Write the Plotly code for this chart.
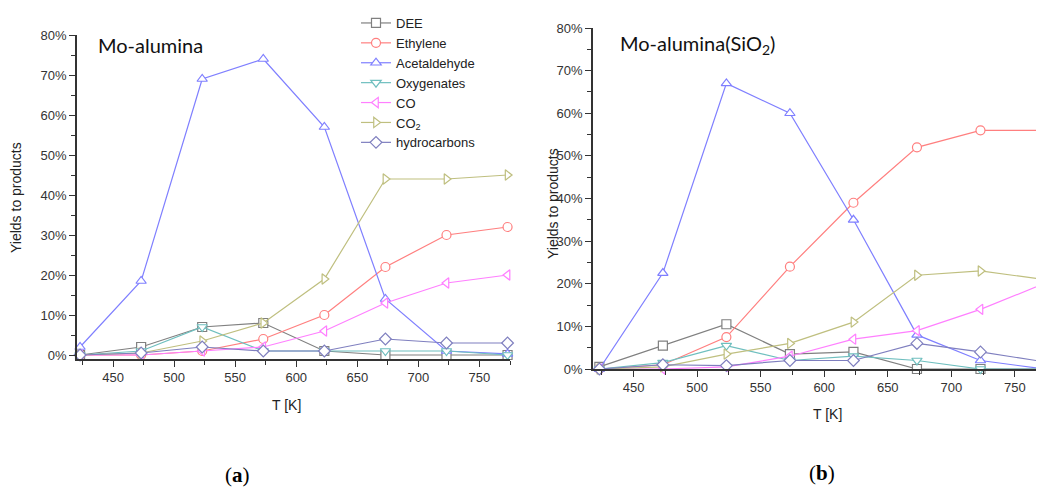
import plotly.graph_objects as go

T = [423, 473, 523, 573, 623, 673, 723, 773]
series_names = ["DEE", "Ethylene", "Acetaldehyde", "Oxygenates", "CO", "CO<sub>2</sub>", "hydrocarbons"]

# Mo-alumina (a), yields in %
a_dee = [0, 2, 7, 8, 1, 0, 0, 0]
a_ethylene = [0, 0, 1, 4, 10, 22, 30, 32]
a_acetaldehyde = [2, 18.5, 69, 74, 57, 14, 1, 0.3]
a_oxygenates = [0, 1, 7, 1, 1, 1, 1, 0]
a_co = [0, 0, 1, 2, 6, 13, 18, 20]
a_co2 = [0, 0.5, 3.5, 8, 19, 44, 44, 45]
a_hydrocarbons = [0, 0.5, 2, 1, 1, 4, 3, 3]

# Mo-alumina(SiO2) (b), yields in %
b_dee = [0.5, 5.5, 10.5, 3.5, 4, 0, 0, 0]
b_ethylene = [0, 1, 7.5, 24, 39, 52, 56, 56]
b_acetaldehyde = [0, 22.5, 67, 60, 35, 8, 2, 0]
b_oxygenates = [0, 1.5, 5.5, 2, 3, 2, 0, 0]
b_co = [0, 0, 0.5, 3, 7, 9, 14, 20]
b_co2 = [0, 0.5, 3.5, 6, 11, 22, 23, 21]
b_hydrocarbons = [0, 1, 0.8, 2, 2, 6, 4, 1.7]

y_ticks = [0, 10, 20, 30, 40, 50, 60, 70, 80]
y_tick_labels = ["0%", "10%", "20%", "30%", "40%", "50%", "60%", "70%", "80%"]
x_ticks = [450, 500, 550, 600, 650, 700, 750]

colors = ["#808080", "#FF7F7F", "#7F7FFF", "#6FBFBF", "#FF7FFF", "#BFBF7F", "#7F7FBF"]
symbols = ["square", "circle", "triangle-up", "triangle-down", "triangle-left", "triangle-right", "diamond"]

a_data = [a_dee, a_ethylene, a_acetaldehyde, a_oxygenates, a_co, a_co2, a_hydrocarbons]
b_data = [b_dee, b_ethylene, b_acetaldehyde, b_oxygenates, b_co, b_co2, b_hydrocarbons]

fig = go.Figure()
for i, name in enumerate(series_names):
    for data, xa, ya, show in [(a_data[i], "x", "y", True), (b_data[i], "x2", "y2", False)]:
        fig.add_trace(go.Scatter(
            x=T, y=data, name=name, xaxis=xa, yaxis=ya, showlegend=show,
            mode="lines+markers",
            line=dict(color=colors[i], width=1.2),
            marker=dict(symbol=symbols[i], size=9, color="white",
                        line=dict(color=colors[i], width=1.2)),
            cliponaxis=False,
        ))

# page body has an 8px margin: figure is placed at (8, 8)
OFF = 8.0
W = 1036.0
H = 483.0

def px(x):
    return (x - OFF) / W

def py(y):
    return 1 - (y - OFF) / H

tickfont = dict(family="Liberation Sans, Arial, sans-serif", size=13, color="#333333")

def xaxis(domain, rng, anchor):
    return dict(domain=domain, range=rng, anchor=anchor, tickvals=x_ticks,
                ticks="outside", ticklen=6, tickwidth=1.3, tickcolor="#333",
                showline=True, linecolor="#333", linewidth=1.5,
                showgrid=False, zeroline=False, tickfont=tickfont, automargin=False,
                minor=dict(dtick=25, tick0=425, ticks="outside", ticklen=4, tickcolor="#333", showgrid=False))

def yaxis(domain, rng, anchor):
    return dict(domain=domain, range=rng, anchor=anchor, tickvals=y_ticks, ticktext=y_tick_labels,
                ticks="outside", ticklen=6, tickwidth=1.3, tickcolor="#333",
                showline=True, linecolor="#333", linewidth=1.5,
                showgrid=False, zeroline=False, tickfont=tickfont, automargin=False,
                minor=dict(dtick=5, tick0=0, ticks="outside", ticklen=4, tickcolor="#333", showgrid=False))

fig.update_layout(
    width=int(W), height=int(H),
    margin=dict(l=0, r=0, t=0, b=0),
    paper_bgcolor="white", plot_bgcolor="white",
    xaxis=xaxis([px(77), px(510)], [420.5, 775], "y"),
    yaxis=yaxis([py(359), py(35)], [-1, 80], "x"),
    xaxis2=xaxis([px(593), 1.0], [418, 773], "y2"),
    yaxis2=yaxis([py(369), py(28)], [0, 80], "x2"),
    legend=dict(x=px(356), y=py(8), xanchor="left", yanchor="top",
                bgcolor="rgba(0,0,0,0)", font=dict(family="Liberation Sans, Arial, sans-serif", size=13, color="#222"),
                itemwidth=30, tracegroupgap=0),
    showlegend=True,
)

labfont = dict(family="Liberation Sans, Arial, sans-serif", size=14, color="#222")
titlefont = dict(family="Lato, Open Sans, sans-serif", size=20, color="#111")
tkfont = dict(family="Liberation Sans Narrow, Liberation Sans, sans-serif", size=14, color="#222")
capfont = dict(family="Liberation Serif, serif", size=21, color="#000")
ann = [
    dict(text="Mo-alumina", x=px(96), y=py(45), xanchor="left", yanchor="middle", font=titlefont),
    dict(text="Mo-alumina(SiO<sub>2</sub>)", x=px(618), y=py(45), xanchor="left", yanchor="middle", font=titlefont),
    dict(text="Yields to products", x=px(16), y=py(198), textangle=-90, xanchor="center", yanchor="middle", font=labfont),
    dict(text="Yields to products", x=px(553), y=py(204), textangle=-90, xanchor="center", yanchor="middle", font=labfont),
    dict(text="T [K]", x=px(286), y=py(405), xanchor="center", yanchor="middle", font=tkfont),
    dict(text="T [K]", x=px(827), y=py(414), xanchor="center", yanchor="middle", font=tkfont),
    dict(text="(<b>a</b>)", x=px(237), y=py(475), xanchor="center", yanchor="middle", font=capfont),
    dict(text="(<b>b</b>)", x=px(822), y=py(473), xanchor="center", yanchor="middle", font=capfont),
]
for a in ann:
    a.update(xref="paper", yref="paper", showarrow=False)
fig.update_layout(annotations=ann)

fig.write_html("out.html")
